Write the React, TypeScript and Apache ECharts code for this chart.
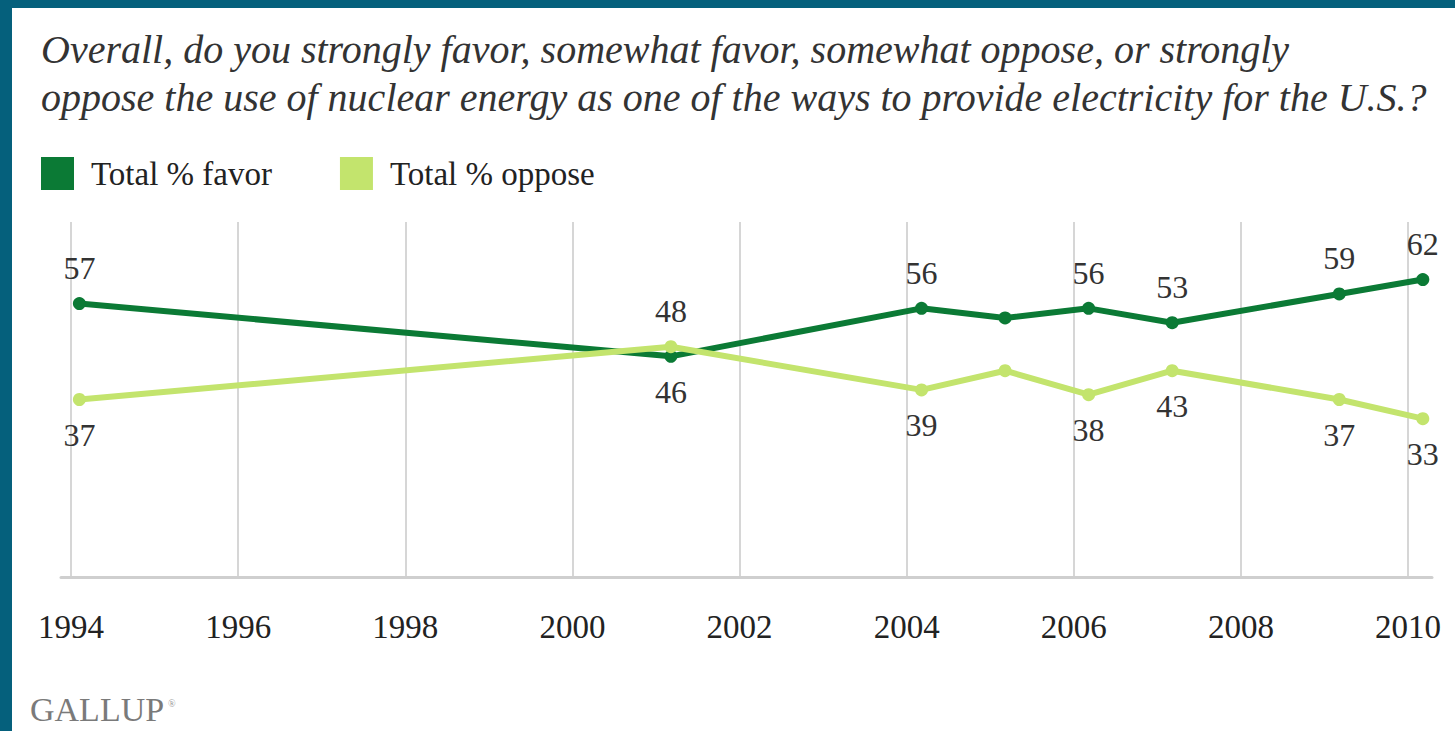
import React, { useEffect, useRef } from "react";
import * as echarts from "echarts";

const titleLines = [
  "Overall, do you strongly favor, somewhat favor, somewhat oppose, or strongly",
  "oppose the use of nuclear energy as one of the ways to provide electricity for the U.S.?",
];
const seriesNames = ["Total % favor", "Total % oppose"];
// poll dates as decimal years
const pollDates = [1994.1, 2001.18, 2004.18, 2005.18, 2006.18, 2007.18, 2009.18, 2010.18];
const favorValues = [57, 46, 56, 54, 56, 53, 59, 62];
const opposeValues = [37, 48, 39, 43, 38, 43, 37, 33];
// label placement for each point: "top", "bottom" or "" (no label)
const favorLabelPos = ["top", "bottom", "top", "", "top", "top", "top", "top"];
const opposeLabelPos = ["bottom", "top", "bottom", "", "bottom", "bottom", "bottom", "bottom"];
const tickYears = [1994, 1996, 1998, 2000, 2002, 2004, 2006, 2008, 2010];

const FAVOR = "#0b7a35";
const OPPOSE = "#c3e46d";
const SERIF = "'Liberation Serif', 'DejaVu Serif', serif";

function buildData(values: number[], pos: string[]) {
  return values.map((v, i) => ({
    value: [pollDates[i], v],
    label: pos[i]
      ? { show: true, position: pos[i] as any, distance: 13 }
      : { show: false },
  }));
}

export default function App() {
  const ref = useRef<HTMLDivElement>(null);
  useEffect(() => {
    document.body.style.margin = "0";
    const chart = echarts.init(ref.current!, null, { renderer: "svg" });
    const gridTop = 222;
    const gridBottom = 731 - 577;
    chart.setOption({
      animation: false,
      backgroundColor: "#ffffff",
      title: {
        text: titleLines.join("\n"),
        left: 36,
        top: 20,
        textStyle: {
          fontFamily: SERIF,
          fontStyle: "italic",
          fontWeight: "normal",
          fontSize: 40,
          lineHeight: 48,
          color: "#333333",
        },
      },
      legend: {
        left: 36,
        top: 152,
        icon: "rect",
        itemWidth: 33,
        itemHeight: 33,
        itemGap: 68,
        data: seriesNames,
        textStyle: {
          fontFamily: SERIF,
          fontSize: 33,
          color: "#222222",
          padding: [0, 0, 0, 12],
        },
      },
      grid: [
        { left: 61, right: 1455 - 1432, top: gridTop, bottom: gridBottom },
        { left: 71, right: 1455 - 1408, top: gridTop, bottom: gridBottom },
      ],
      xAxis: [
        {
          type: "value",
          gridIndex: 0,
          min: 1993.88,
          max: 2010.29,
          axisLine: { show: true, lineStyle: { color: "#cfcfcf", width: 3 } },
          axisTick: { show: false },
          axisLabel: { show: false },
          splitLine: { show: false },
        },
        {
          type: "value",
          gridIndex: 1,
          min: tickYears[0],
          max: tickYears[tickYears.length - 1],
          interval: 2,
          axisLine: { show: false },
          axisTick: { show: false },
          splitLine: { show: true, lineStyle: { color: "#d6d6d6", width: 2 } },
          axisLabel: {
            show: true,
            margin: 33,
            fontFamily: SERIF,
            fontSize: 33,
            color: "#222222",
            formatter: (v: number) => String(v),
          },
        },
      ],
      yAxis: [
        { type: "value", gridIndex: 0, min: 0, max: 74, show: false },
        { type: "value", gridIndex: 1, min: 0, max: 74, show: false },
      ],
      series: [
        {
          name: seriesNames[0],
          type: "line",
          xAxisIndex: 0,
          yAxisIndex: 0,
          data: buildData(favorValues, favorLabelPos),
          color: FAVOR,
          lineStyle: { width: 6, color: FAVOR },
          symbol: "circle",
          symbolSize: 13,
          itemStyle: { color: FAVOR },
          z: 3,
          label: {
            fontFamily: SERIF,
            fontSize: 32,
            color: "#333333",
          },
        },
        {
          name: seriesNames[1],
          type: "line",
          xAxisIndex: 0,
          yAxisIndex: 0,
          data: buildData(opposeValues, opposeLabelPos),
          color: OPPOSE,
          lineStyle: { width: 6, color: OPPOSE },
          symbol: "circle",
          symbolSize: 13,
          itemStyle: { color: OPPOSE },
          z: 4,
          label: {
            fontFamily: SERIF,
            fontSize: 32,
            color: "#333333",
          },
        },
      ],
      graphic: [
        { type: "rect", left: 0, top: 0, shape: { width: 1455, height: 8 }, style: { fill: "#05607c" } },
        { type: "rect", left: 0, top: 0, shape: { width: 12, height: 731 }, style: { fill: "#05607c" } },
        {
          type: "text",
          left: 30,
          top: 692,
          style: {
            text: "GALLUP",
            fontFamily: SERIF,
            fontSize: 34,
            fill: "#7a7a7a",
          },
        },
        {
          type: "text",
          left: 168,
          top: 698,
          style: { text: "®", fontFamily: SERIF, fontSize: 10, fill: "#9a9a9a" },
        },
      ],
    });
    return () => chart.dispose();
  }, []);
  return (
    <div
      ref={ref}
      style={{ position: "absolute", left: 0, top: 0, width: 1455, height: 731 }}
    />
  );
}
